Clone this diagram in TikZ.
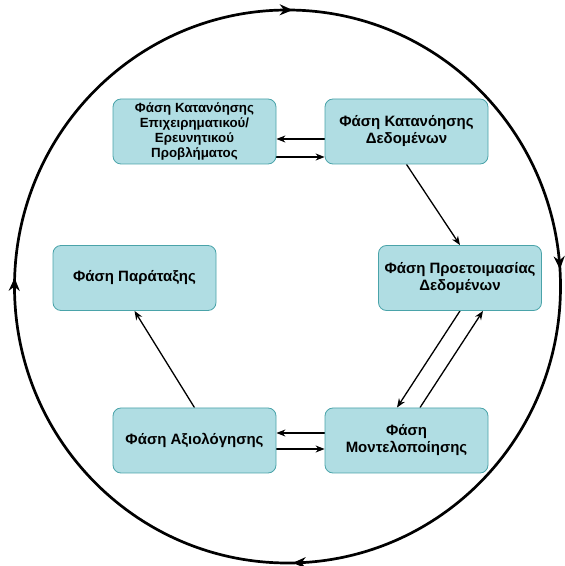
\documentclass[tikz,border=0pt]{standalone}
\usepackage{fontspec}
\setsansfont{Liberation Sans}
\usetikzlibrary{arrows.meta}
\usetikzlibrary{decorations.markings}
\pgfdeclarelayer{edgelayer}
\pgfdeclarelayer{nodelayer}
\pgfsetlayers{edgelayer,nodelayer,main}
\definecolor{phasefill}{HTML}{B0DDE3}
\definecolor{phasedraw}{HTML}{4AA3A9}
\tikzstyle{phase}=[rectangle,rounded corners=8pt,fill=phasefill,draw=phasedraw,line width=0.8pt,minimum width=163pt,minimum height=65pt,inner sep=0pt,align=center,font=\sffamily\bfseries\fontsize{15}{17}\selectfont]
\tikzstyle{smallphase}=[phase,font=\sffamily\bfseries\fontsize{13.3}{15}\selectfont]
\tikzstyle{flow}=[-{Stealth[length=9pt,width=7pt]},draw=black,line width=1.3pt]
\tikzstyle{cycle}=[draw=black,line width=2.7pt,postaction=decorate,
  decoration={markings,
    mark=at position 0.01 with {\arrowreversed{Stealth[length=13pt,width=11pt]}},
    mark=at position 0.247 with {\arrowreversed{Stealth[length=13pt,width=11pt]}},
    mark=at position 0.495 with {\arrowreversed{Stealth[length=13pt,width=11pt]}},
    mark=at position 0.753 with {\arrowreversed{Stealth[length=13pt,width=11pt]}}}]

\begin{document}
\begin{tikzpicture}[x=1pt,y=1pt]
	\useasboundingbox (0, 0) rectangle (565, 566);
	\begin{pgfonlayer}{nodelayer}
		\node [style=smallphase] (0) at (194.5, 434.5) {Φάση Κατανόησης\\Επιχειρηματικού/\\Ερευνητικού\\Προβλήματος};
		\node [style=phase] (1) at (406.5, 434.5) {Φάση Κατανόησης\\Δεδομένων};
		\node [style=phase] (2) at (460, 288) {Φάση Προετοιμασίας\\Δεδομένων};
		\node [style=phase] (3) at (134.5, 288) {Φάση Παράταξης};
		\node [style=phase] (4) at (194.5, 125.5) {Φάση Αξιολόγησης};
		\node [style=phase] (5) at (406.5, 125.5) {Φάση\\Μοντελοποίησης};
	\end{pgfonlayer}
	\begin{pgfonlayer}{edgelayer}
		\draw [style=cycle] (287.5, 279.5) ellipse [x radius=273, y radius=276.5];
		\draw [style=flow] ([yshift=-7.5pt]1.west) to ([yshift=-7.5pt]0.east);
		\draw [style=flow] ([yshift=-25.5pt]0.east) to ([yshift=-25.5pt]1.west);
		\draw [style=flow] (1.south) to (2.north);
		\draw [style=flow] (2.south) to ([xshift=-9.5pt]5.north);
		\draw [style=flow] ([xshift=13.5pt]5.north) to ([xshift=23pt]2.south);
		\draw [style=flow] ([yshift=7.5pt]5.west) to ([yshift=7.5pt]4.east);
		\draw [style=flow] ([yshift=-8.5pt]4.east) to ([yshift=-8.5pt]5.west);
		\draw [style=flow] (4.north) to (3.south);
	\end{pgfonlayer}
\end{tikzpicture}
\end{document}
